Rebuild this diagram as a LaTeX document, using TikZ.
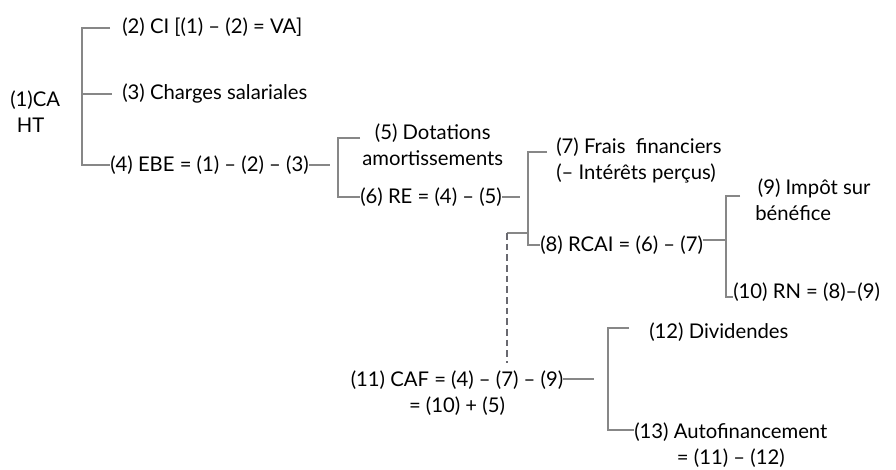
\documentclass[tikz,border=0pt]{standalone}
\usepackage{fontspec}
\setmainfont{Lato}
\usetikzlibrary{positioning}

\definecolor{linegray}{RGB}{135,135,135}
\definecolor{dashgray}{RGB}{105,105,112}

\tikzset{
  item/.style={anchor=west, inner sep=0pt, align=left,
    font=\fontsize{15.2}{19.5}\selectfont},
  branch/.style={draw=linegray, line width=1pt},
  link/.style={draw=dashgray, line width=1.1pt, dash pattern=on 5pt off 3pt},
}

\begin{document}
\begin{tikzpicture}[x=0.75pt,y=-0.75pt]
\useasboundingbox (0,0) rectangle (896,469);

% niveau 1
\node[item] (ca) at (10,112) {(1)CA\\\hspace*{5pt}HT};
\node[item] (ci) at (122,27) {(2) CI [(1) – (2) = VA]};
\node[item] (cs) at (122,93) {(3) Charges salariales};
\node[item] (ebe) at (110,165) {(4) EBE = (1) – (2) – (3)};

% niveau 2
\node[item, align=center] (dot) at (362,145) {(5) Dotations\\amortissements};
\node[item] (re) at (360,197) {(6) RE = (4) – (5)};

% niveau 3
\node[item] (ff) at (556,160) {(7) Frais\ \ financiers\\(– Intérêts perçus)};
\node[item] (rcai) at (540,245) {(8) RCAI = (6) – (7)};

% niveau 4
\node[item] (imp) at (755,200) {\hspace*{2pt}(9) Impôt sur\\bénéfice};
\node[item] (rn) at (733,292) {(10) RN = (8)–(9)};

% CAF
\node[item, anchor=center, align=center] (caf) at (457,393) {(11) CAF = (4) – (7) – (9)\\= (10) + (5)};
\node[item] (div) at (649,332) {(12) Dividendes};
\node[item, align=center] (auto) at (634,445) {(13) Autofinancement\\= (11) – (12)};

% accolades
\coordinate (t1) at (110,28);
\coordinate (s1) at (82,94);
\coordinate (t2) at (112,94);
\draw[branch] (t1) -| (ebe.west -| s1) -- (ebe.west);
\draw[branch] (s1) -- (t2);

\coordinate (e1) at (330,167);
\coordinate (t3) at (360,138);
\coordinate (s2) at (338,196);
\draw[branch] (ebe.east) -- (ebe.east -| e1);
\draw[branch] (t3) -| (re.west -| s2) -- (re.west);

\coordinate (e2) at (520,197);
\coordinate (t4) at (547,152);
\coordinate (s3) at (528,233);
\draw[branch] (re.east) -- (re.east -| e2);
\draw[branch] (t4) -| (rcai.west -| s3) -- (rcai.west);

\coordinate (e3) at (726,240);
\coordinate (t5) at (740,196);
\coordinate (s5) at (726,297);
\draw[branch] ([yshift=3.75pt]rcai.east) -- (e3);
\draw[branch] (t5) -| (s5) -- (s5 -| rn.west);

% lien CAF
\coordinate (d1) at (507,233);
\coordinate (d2) at (507,363);
\draw[branch] (s3) -- (d1);
\draw[link] (d1) -- (d2);

\coordinate (e4) at (594,379);
\coordinate (t6) at (629,328);
\coordinate (s4) at (608,430);
\draw[branch] ([yshift=10.5pt]caf.east) -- ([yshift=10.5pt]caf.east -| e4);
\draw[branch] (t6) -| (s4) -- (s4 -| auto.west);
\end{tikzpicture}
\end{document}
